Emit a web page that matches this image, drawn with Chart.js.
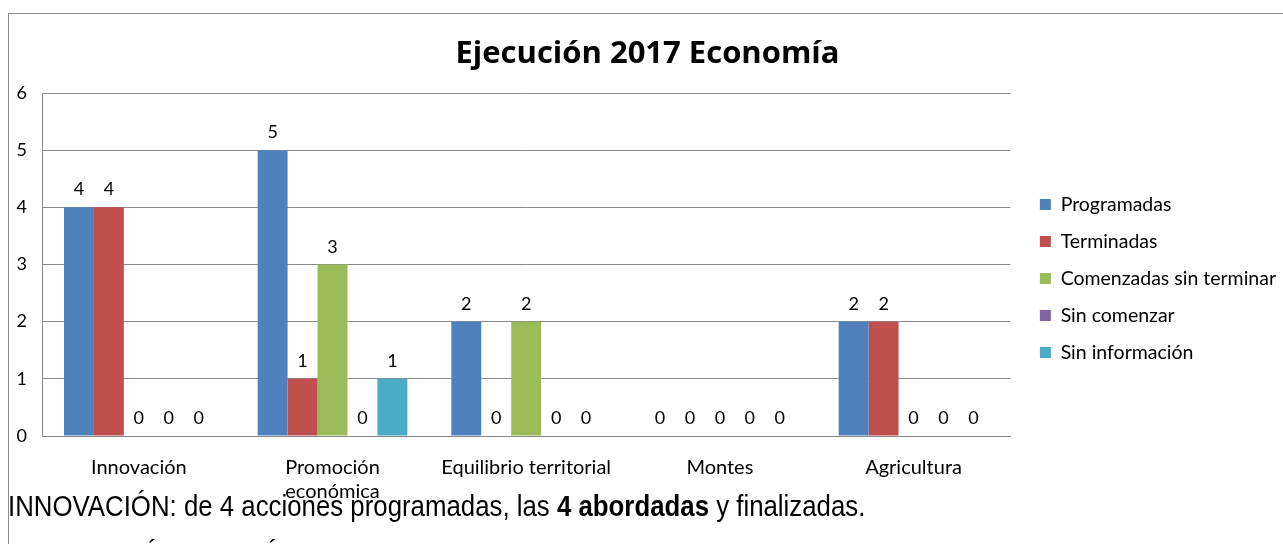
<!DOCTYPE html>
<html>
<head>
<meta charset="utf-8">
<script src="https://cdn.jsdelivr.net/npm/chart.js@4/dist/chart.umd.min.js"></script>
<style>
  html, body { margin: 0; padding: 0; background: #fff; overflow: hidden; }
  body { width: 1283px; height: 544px; position: relative; }
  #frame { position: absolute; left: 8px; top: 13px; width: 1400px; height: 700px;
           border-top: 1px solid #8a8a8a; border-left: 1px solid #8a8a8a; }
  #wrap { position: absolute; left: 0; top: 0; width: 1283px; height: 544px; }
  .txt { position: absolute; left: 8px; white-space: nowrap; font-family: 'Liberation Sans', Arial, sans-serif;
         font-size: 29px; line-height: 29px; color: #000; transform: scaleX(0.89); transform-origin: 0 0; }
</style>
</head>
<body>
<div id="frame"></div>
<div id="wrap"><canvas id="chart" width="1283" height="544"></canvas></div>
<div class="txt" style="top:492px">INNOVACIÓN: de 4 acciones programadas, las <b>4 abordadas</b> y finalizadas.</div>
<div class="txt" style="top:541px; left:18px">PROMOCIÓN ECONÓMICA:</div>
<script>
const categories = ['Innovación', ['Promoción', 'económica'], 'Equilibrio territorial', 'Montes', 'Agricultura'];
const seriesNames = ['Programadas', 'Terminadas', 'Comenzadas sin terminar', 'Sin comenzar', 'Sin información'];
const programadas = [4, 5, 2, 0, 2];
const terminadas = [4, 1, 0, 0, 2];
const comenzadas = [0, 3, 2, 0, 0];
const sinComenzar = [0, 0, 0, 0, 0];
const sinInformacion = [0, 1, 0, 0, 0];
const yTicks = [0, 1, 2, 3, 4, 5, 6];
const colors = ['#4F81BD', '#C0504D', '#9BBB59', '#8064A2', '#4BACC6'];

const font = 'Lato';
const seriesValues = [programadas, terminadas, comenzadas, sinComenzar, sinInformacion];

const valueLabels = {
  id: 'valueLabels',
  afterDatasetsDraw(chart) {
    const ctx = chart.ctx;
    ctx.save();
    ctx.font = '18px ' + font;
    ctx.fillStyle = '#000';
    ctx.textAlign = 'center';
    ctx.textBaseline = 'alphabetic';
    chart.data.datasets.forEach((ds, i) => {
      chart.getDatasetMeta(i).data.forEach((bar, j) => {
        ctx.fillText(String(ds.data[j]), bar.x, bar.y - 12);
      });
    });
    ctx.restore();
  }
};

new Chart(document.getElementById('chart'), {
  type: 'bar',
  data: {
    labels: categories,
    datasets: seriesNames.map((name, i) => ({
      label: name,
      data: seriesValues[i],
      backgroundColor: colors[i],
      borderWidth: 0,
      categoryPercentage: 0.773,
      barPercentage: 1
    }))
  },
  options: {
    responsive: false,
    animation: false,
    layout: { padding: { top: 13, left: 9, right: -3, bottom: 0 } },
    plugins: {
      title: {
        display: true,
        text: 'Ejecución 2017 Economía',
        color: '#000',
        font: { family: 'Open Sans', size: 31, weight: 'bold' },
        padding: { top: 22.8, bottom: 20 }
      },
      legend: {
        position: 'right',
        maxWidth: 400,
        labels: {
          color: '#000',
          font: { family: font, size: 19.5 },
          boxWidth: 11,
          boxHeight: 11,
          padding: 17.5
        }
      },
      tooltip: { enabled: false }
    },
    scales: {
      x: {
        grid: { display: false, drawTicks: false },
        border: { display: true, color: '#8a8a8a' },
        ticks: { color: '#000', font: { family: font, size: 20 }, padding: 20, maxRotation: 0 },
        afterFit(s) { s.height = 108; }
      },
      y: {
        min: 0,
        max: 6,
        afterBuildTicks(s) { s.ticks = yTicks.map(v => ({ value: v })); },
        grid: { color: '#8a8a8a', drawTicks: false },
        border: { display: true, color: '#8a8a8a' },
        ticks: { color: '#000', font: { family: font, size: 18 }, padding: 15 },
        afterFit(s) { s.width = 33; }
      },
      gap: {
        position: 'right',
        grid: { display: false },
        border: { display: false },
        ticks: { display: false },
        afterFit(s) { s.width = 12; }
      }
    }
  },
  plugins: [valueLabels]
});
</script>
</body>
</html>
